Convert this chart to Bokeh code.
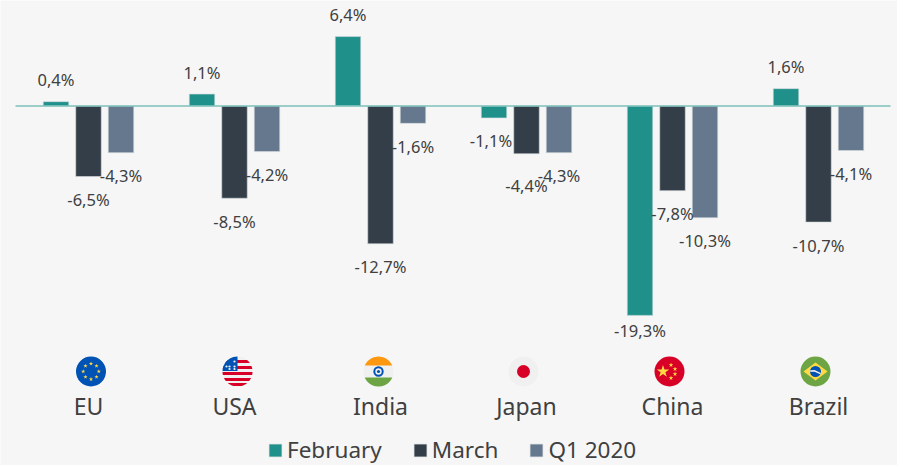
from math import cos, sin, pi
from bokeh.embed import file_html
from bokeh.resources import INLINE
from bokeh.plotting import figure
from bokeh.models import ColumnDataSource, Range1d, LinearAxis, FixedTicker, Legend, LegendItem
from bokeh.core.properties import value

countries = ["EU", "USA", "India", "Japan", "China", "Brazil"]
february = [0.4, 1.1, 6.4, -1.1, -19.3, 1.6]
march = [-6.5, -8.5, -12.7, -4.4, -7.8, -10.7]
q1_2020 = [-4.3, -4.2, -1.6, -4.3, -10.3, -4.1]
series_names = ["February", "March", "Q1 2020"]
series_colors = ["#20908a", "#333e48", "#66788e"]
# hand nudges (px) of labels that the source chart moved off their default spot
nudge_y = {(1, 3): 9, (0, 4): -8}
nudge_x = {(0, 3): -3}

FONT = "Noto Sans"
TEXT = "#404040"
W, H = 897, 465
PX_X, PX_Y = 146.0, 10.85           # pixels per group / per percentage point
X0, Y0 = 88.0, 105.5                # canvas position of group 0 / of value 0
def ux(px): return px / PX_X
def uy(px): return px / PX_Y

p = figure(width=W, height=H, output_backend="svg", toolbar_location=None,
           x_range=Range1d(-X0 / PX_X, (W - X0) / PX_X),
           y_range=Range1d(-(H - Y0) / PX_Y, Y0 / PX_Y),
           min_border=0, background_fill_color="#f6f6f6", border_fill_color="#f6f6f6",
           outline_line_color=None)
p.grid.visible = False
p.xaxis.visible = False
p.yaxis.visible = False

# bars
step, width = ux(32.5), ux(25.5)
renderers = []
all_series = [february, march, q1_2020]
for s, (vals, col) in enumerate(zip(all_series, series_colors)):
    src = ColumnDataSource(dict(x=[i + (s - 1) * step for i in range(len(countries))], top=vals))
    r = p.vbar(x="x", top="top", bottom=0, width=width, source=src, fill_color=col,
               line_color="#d5dbdd", line_width=0.6)
    renderers.append(r)

# zero line
p.line([ux(15 - X0), ux(890 - X0)], [0, 0], line_color="#7cc0ba", line_width=1.6)

# data labels
for s, vals in enumerate(all_series):
    xs, ys, tx, ox, oy = [], [], [], [], []
    for i, v in enumerate(vals):
        xs.append(i + (s - 1) * step)
        ys.append(v)
        tx.append(f"{v:.1f}%".replace(".", ","))
        ox.append(nudge_x.get((s, i), 0))
        oy.append((-22 if v > 0 else 23) + nudge_y.get((s, i), 0))
    p.text(x=xs, y=ys, text=tx, x_offset=ox, y_offset=oy, text_align="center",
           text_baseline="middle", text_font=value(FONT), text_font_size="16.5px", text_color=TEXT)

# category axis, a real axis pinned under the flags
axis = LinearAxis(fixed_location=-uy(407 - 105.5 - 24), ticker=FixedTicker(ticks=list(range(6))),
                  major_label_overrides={i: c for i, c in enumerate(countries)},
                  axis_line_color=None, major_tick_line_color=None, minor_tick_line_color=None,
                  major_label_standoff=0, major_label_text_font=FONT,
                  major_label_text_font_size="23px", major_label_text_color=TEXT)
p.add_layout(axis, "below")

# flags: drawn in pixel offsets about a centre, converted through the plot's scale
flag_x = [2.5, 3, -2, -3, -3, -3]
FY = 371 - 105.5
R = 15
def fx(i, dx): return i + ux(flag_x[i] + dx)
def fy(dy): return -uy(FY + dy)

def disc(i, col, r=R, dx=0, dy=0):
    p.ellipse([fx(i, dx)], [fy(dy)], width=ux(2 * r), height=uy(2 * r), fill_color=col, line_color=None)
def poly(i, pts, col):
    p.patch([fx(i, a) for a, b in pts], [fy(b) for a, b in pts], fill_color=col, line_color=None)
def band(i, y0, y1, col, xmax=None):
    # the part of the disc between two horizontal chords
    pts = []
    n = 24
    for k in range(n + 1):
        y = y0 + (y1 - y0) * k / n
        x = (max(R * R - y * y, 0)) ** 0.5
        pts.append((min(x, xmax) if xmax is not None else x, y))
    for k in range(n, -1, -1):
        y = y0 + (y1 - y0) * k / n
        pts.append((-(max(R * R - y * y, 0)) ** 0.5, y))
    poly(i, pts, col)
def star(i, dx, dy, size, col="#ffda44"):
    p.scatter([fx(i, dx)], [fy(dy)], marker="star", size=size, fill_color=col, line_color=None)

# EU
disc(0, "#0052b4")
for k in range(8):
    a = 2 * pi * k / 8
    star(0, 7.8 * cos(a), 7.8 * sin(a), 4.5)
# USA
disc(1, "#f0f0f0")
for y0 in (-11.5, -5.5, 0.5, 6.5, 11.5):
    band(1, y0, y0 + 3, "#d80027")
band(1, -15, -0.5, "#0052b4", xmax=0)
for a, b in [(-8, -5), (-3, -5), (-3, -10), (-8, -2.5), (-3, -2.5), (-11, -5)]:
    p.scatter([fx(1, a)], [fy(b)], marker="circle", size=2.2, fill_color="#f0f0f0", line_color=None)
# India
disc(2, "#f0f0f0")
band(2, -15, -6, "#ff9811")
band(2, 6, 15, "#6da544")
disc(2, "#0052b4", r=5.2)
disc(2, "#f0f0f0", r=3.2)
disc(2, "#0052b4", r=1.6)
# Japan
disc(3, "#f0f0f0")
disc(3, "#d80027", r=6.5)
# China
disc(4, "#d80027")
star(4, -6.5, 0, 13)
for a, b in [(1.5, -6.5), (5.5, -2.5), (5.5, 2.5), (1.5, 6.5)]:
    star(4, a, b, 5)
# Brazil
disc(5, "#6da544")
poly(5, [(-12, 0), (0, -9), (12, 0), (0, 9)], "#ffda44")
disc(5, "#0052b4", r=5.5)
poly(5, [(-5.3, -1.2), (-1, -1.4), (5.3, 1.6), (4.8, 2.8), (-1, 0.2), (-5.4, 0.2)], "#f0f0f0")

# legend
legend = Legend(items=[LegendItem(label=n, renderers=[r]) for n, r in zip(series_names, renderers)],
                orientation="horizontal", location=(267, 0), background_fill_alpha=0,
                border_line_color=None, glyph_width=16, glyph_height=16, label_standoff=4,
                spacing=30, padding=0, margin=0, label_text_font=FONT,
                label_text_font_size="22.5px", label_text_color=TEXT)
p.add_layout(legend, "center")

open("out.html", "w").write(file_html(p, INLINE))
